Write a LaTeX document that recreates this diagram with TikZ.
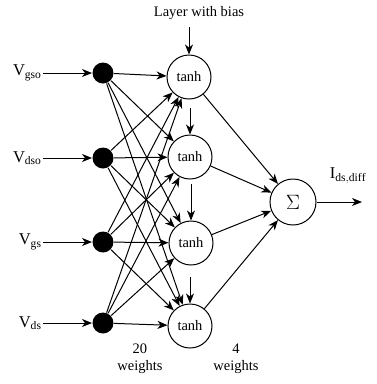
\documentclass[tikz,border=0pt]{standalone}
\usepackage{fontspec}
\setmainfont{Liberation Serif}
\usetikzlibrary{arrows.meta}

\begin{document}
\begin{tikzpicture}[x=1pt,y=-1pt,line width=1pt,>={Stealth[length=10pt,width=8pt,inset=3pt]},
  font=\fontsize{14.5}{17}\selectfont,
  dot/.style={circle,fill=black,inner sep=0pt,minimum size=21pt},
  neuron/.style={circle,draw,line width=1pt,inner sep=0pt,minimum size=44pt},
  inlabel/.style={anchor=east,inner sep=1pt,font=\fontsize{16.5}{18}\selectfont}]
\useasboundingbox (0,0) rectangle (377,384);
% input nodes
\node[dot] (in1) at (103,73) {};
\node[dot] (in2) at (103,158) {};
\node[dot] (in3) at (103,242) {};
\node[dot] (in4) at (103,323) {};
\node[inlabel] (v1) at (43,73) {V$_{\mathrm{gso}}$};
\node[inlabel] (v2) at (43,158) {V$_{\mathrm{dso}}$};
\node[inlabel] (v3) at (43,242) {V$_{\mathrm{gs}}$};
\node[inlabel] (v4) at (43,323) {V$_{\mathrm{ds}}$};
\foreach \i in {1,...,4}
  \draw[->] (v\i.east) -- (in\i);
% hidden layer
\node[neuron] (h1) at (189,77) {tanh};
\node[neuron] (h2) at (190,157) {tanh};
\node[neuron] (h3) at (191,243) {tanh};
\node[neuron] (h4) at (190,326) {tanh};
% bias inputs
\node (bias) at (199,13) {Layer with bias};
\coordinate (b1) at (189,27);
\coordinate (b2) at (190,108);
\coordinate (b3) at (191,184);
\coordinate (b4) at (190,277);
\foreach \j in {1,...,4}
  \draw[->] (b\j) -- (h\j);
% 20 weights
\foreach \i in {1,...,4}
  \foreach \j in {1,...,4}
    \draw[->] (in\i) -- (h\j);
% output neuron
\node[neuron,minimum size=46pt,font=\fontsize{20}{22}\selectfont] (sum) at (293,202) {$\Sigma$};
\foreach \j in {1,...,4}
  \draw[->] (h\j) -- (sum);
\coordinate (out) at (362,202);
\draw[->] (sum) -- (out);
\node[font=\fontsize{16.5}{18}\selectfont] (ids) at (348,176) {I$_{\mathrm{ds,diff}}$};
% weight counts
\node[align=center] (w20) at (140,359) {20\\weights};
\node[align=center] (w4) at (236,359) {4\\weights};
\end{tikzpicture}
\end{document}
